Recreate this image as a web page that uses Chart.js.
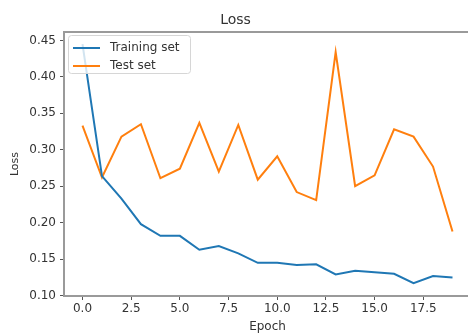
<!DOCTYPE html>
<html>
<head>
<meta charset="utf-8">
<script src="https://cdn.jsdelivr.net/npm/chart.js@4.4.1/dist/chart.umd.min.js"></script>
<style>
  html, body { margin: 0; padding: 0; background: #fff; overflow: hidden; }
  #wrap { width: 472px; height: 334px; }
</style>
</head>
<body>
<div id="wrap"><canvas id="lossChart"></canvas></div>
<script>
// values
var epochs = [0,1,2,3,4,5,6,7,8,9,10,11,12,13,14,15,16,17,18,19];
var trainLoss = [0.445,0.264,0.233,0.198,0.182,0.182,0.163,0.168,0.158,0.145,0.145,0.142,0.143,0.129,0.134,0.132,0.130,0.117,0.127,0.125];
var testLoss = [0.333,0.262,0.318,0.335,0.261,0.274,0.337,0.270,0.334,0.259,0.291,0.242,0.231,0.434,0.250,0.265,0.328,0.318,0.277,0.188];
var xTicks = [0,2.5,5,7.5,10,12.5,15,17.5];
var yTicks = [0.10,0.15,0.20,0.25,0.30,0.35,0.40,0.45];

var FONT = "'DejaVu Sans', sans-serif";
var TXT = "#333";
var SPINE = "#9a9a9a";

function pts(ys){
    return epochs.map(function(e,i){ return {x:e, y:ys[i]}; });
}

// top/right spines + matplotlib style legend
var frameAndLegend = {
    id: "frameAndLegend",
    afterDatasetsDraw: function(chart){
        var ctx = chart.ctx, a = chart.chartArea;
        ctx.save();
        ctx.strokeStyle = SPINE;
        ctx.lineWidth = 2;
        ctx.beginPath();
        ctx.moveTo(a.left, a.top);
        ctx.lineTo(a.right, a.top);
        ctx.lineTo(a.right, a.bottom);
        ctx.stroke();

        // legend box
        var bx = a.left + 4, by = a.top + 3, bw = 122, bh = 38;
        ctx.fillStyle = "rgba(255,255,255,0.8)";
        ctx.strokeStyle = "#d6d6d6";
        ctx.lineWidth = 1;
        ctx.beginPath();
        ctx.roundRect(bx + 0.5, by + 0.5, bw, bh, 3);
        ctx.fill();
        ctx.stroke();

        ctx.font = "12px " + FONT;
        ctx.textBaseline = "middle";
        chart.data.datasets.forEach(function(ds, i){
            var yy = by + 13 + i * 18;
            ctx.strokeStyle = ds.borderColor;
            ctx.lineWidth = 2;
            ctx.beginPath();
            ctx.moveTo(bx + 5, yy);
            ctx.lineTo(bx + 32, yy);
            ctx.stroke();
            ctx.fillStyle = TXT;
            ctx.fillText(ds.label, bx + 42, yy);
        });
        ctx.restore();
    }
};

new Chart(document.getElementById("lossChart"), {
    type: "line",
    data: {
        datasets: [
            {
                label: "Training set",
                data: pts(trainLoss),
                borderColor: "#1f77b4",
                borderWidth: 2,
                pointRadius: 0,
                tension: 0,
                fill: false
            },
            {
                label: "Test set",
                data: pts(testLoss),
                borderColor: "#ff7f0e",
                borderWidth: 2,
                pointRadius: 0,
                tension: 0,
                fill: false
            }
        ]
    },
    options: {
        responsive: true,
        maintainAspectRatio: false,
        animation: false,
        layout: { padding: { left: 0, right: 1, top: 0, bottom: 0 } },
        plugins: {
            legend: { display: false },
            tooltip: { enabled: false },
            title: {
                display: true,
                text: "Loss",
                color: TXT,
                font: { family: FONT, size: 14, weight: "normal" },
                padding: { top: 11.6, bottom: 3.6 }
            }
        },
        scales: {
            x: {
                type: "linear",
                min: -0.95,
                max: 19.95,
                afterBuildTicks: function(s){ s.ticks = xTicks.map(function(v){ return {value:v}; }); },
                afterFit: function(s){ s.height = 38; },
                ticks: {
                    color: TXT,
                    font: { family: FONT, size: 12 },
                    padding: 2,
                    maxRotation: 0,
                    autoSkip: false,
                    callback: function(v){ return v.toFixed(1); }
                },
                grid: { drawOnChartArea: false, drawTicks: true, tickLength: 4, tickColor: "#555" },
                border: { display: true, color: SPINE, width: 2 },
                title: {
                    display: true,
                    text: "Epoch",
                    color: TXT,
                    font: { family: FONT, size: 12 },
                    padding: { top: 0, bottom: 0 }
                }
            },
            y: {
                min: 0.0995,
                max: 0.4615,
                afterBuildTicks: function(s){ s.ticks = yTicks.map(function(v){ return {value:v}; }); },
                afterFit: function(s){ s.width = 64; },
                ticks: {
                    color: TXT,
                    font: { family: FONT, size: 12 },
                    padding: 4,
                    autoSkip: false,
                    callback: function(v){ return v.toFixed(2); }
                },
                grid: { drawOnChartArea: false, drawTicks: true, tickLength: 4, tickColor: "#555" },
                border: { display: true, color: SPINE, width: 2 },
                title: {
                    display: true,
                    text: "Loss",
                    color: TXT,
                    font: { family: FONT, size: 11 },
                    padding: { top: 9, bottom: 0 }
                }
            }
        }
    },
    plugins: [frameAndLegend]
});
</script>
</body>
</html>
